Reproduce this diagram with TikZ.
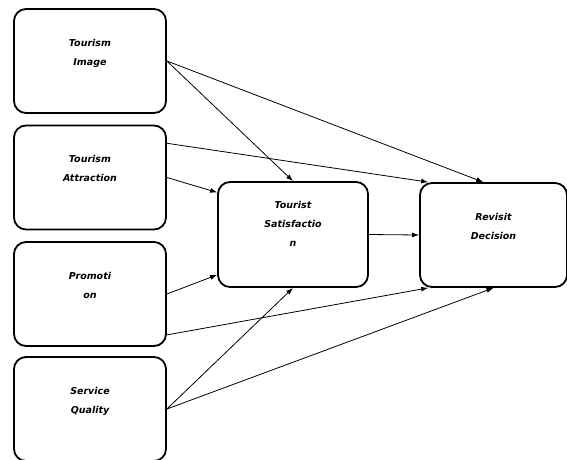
\documentclass[tikz,border=0pt]{standalone}
\usepackage{fontspec}
\setmainfont{DejaVu Sans}
\usetikzlibrary{calc}
\usetikzlibrary{arrows.meta}

\begin{document}
\begin{tikzpicture}[x=1pt, y=-1pt,
  factor/.style = {shape=rectangle, rounded corners=12pt, draw, line width=1.8pt,
    align=center, font=\fontsize{9.5}{19}\selectfont\bfseries\itshape,
    minimum width=152pt, minimum height=104pt, inner sep=0pt, text depth=18pt},
  path/.style = {-{Latex[length=7pt,width=5pt]}, line width=0.8pt}]
  \useasboundingbox (0,0) rectangle (567,459);
  \node[factor] (ti) at (90,61) {Tourism\\ Image};
  \node[factor] (ta) at (90,177.5) {Tourism\\ Attraction};
  \node[factor] (pr) at (90,294) {Promoti\\ on};
  \node[factor] (sq) at (90,409) {Service\\ Quality};
  \node[factor, minimum width=150pt, minimum height=105pt, text depth=22pt] (ts) at (293,234.5)
    {Tourist\\ Satisfactio\\ n};
  \node[factor, minimum width=147pt] (rd) at (493.5,235) {Revisit\\ Decision};
  \draw[path] (ti.east) -- (ts.north);
  \draw[path] (ti.east) -- (rd.101);
  \draw[path] (ta.24) -- (rd.141);
  \draw[path] (ta.east) -- (ts.151);
  \draw[path] (pr.east) -- (ts.208);
  \draw[path] (pr.-28) -- (rd.219);
  \draw[path] (sq.east) -- (ts.south);
  \draw[path] (sq.east) -- (rd.south);
  \draw[path] (ts.east) -- (rd.west);
\end{tikzpicture}
\end{document}
